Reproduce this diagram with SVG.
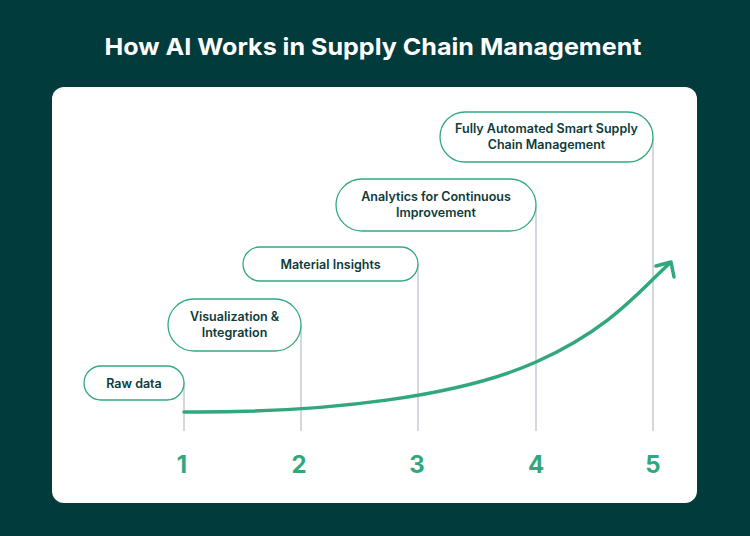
<svg xmlns="http://www.w3.org/2000/svg" width="750" height="536" viewBox="0 0 750 536">
<style>
.pill{fill:#fff;stroke:#34A97F;stroke-width:1.3}
.lbl{font-family:Inter,"Open Sans","Liberation Sans",sans-serif;font-weight:600;font-size:12.5px;fill:#0D3B3A;text-anchor:middle}
.num{font-family:Inter,"Open Sans","Liberation Sans",sans-serif;font-weight:700;font-size:24px;fill:#31A87C;text-anchor:middle}
.vl{stroke:#D4D6E0;stroke-width:2;fill:none}
</style>
<rect width="750" height="536" fill="#023B3C"/>
<text x="373" y="55" font-family="Inter,'Open Sans','Liberation Sans',sans-serif" font-weight="700" font-size="23.5" fill="#fff" text-anchor="middle" textLength="537" lengthAdjust="spacingAndGlyphs">How AI Works in Supply Chain Management</text>
<rect x="52" y="87" width="645" height="416" rx="12" fill="#fff"/>
<g id="guides">
<line class="vl" x1="184" y1="383" x2="184" y2="431"/>
<line class="vl" x1="301" y1="325" x2="301" y2="431"/>
<line class="vl" x1="418" y1="264" x2="418" y2="431"/>
<line class="vl" x1="536" y1="205" x2="536" y2="431"/>
<line class="vl" x1="653" y1="137" x2="653" y2="431"/>
</g>
<g id="connectors">
<path d="M184,412 C330,413 460,396 536,362 S640,290 670,263" fill="none" stroke="#31A87C" stroke-width="3.5" stroke-linecap="round"/>
<polyline points="656,266 671,262 674,277" fill="none" stroke="#31A87C" stroke-width="3.5" stroke-linecap="round" stroke-linejoin="round"/>
</g>
<g id="n1"><rect class="pill" x="84" y="366" width="100" height="34" rx="17"/><text class="lbl" x="134" y="387.5">Raw data</text></g>
<g id="n2"><rect class="pill" x="168" y="299" width="133" height="52" rx="26"/><text class="lbl" x="234.5" y="321">Visualization &amp;</text><text class="lbl" x="234.5" y="337">Integration</text></g>
<g id="n3"><rect class="pill" x="243" y="247" width="175" height="34" rx="17"/><text class="lbl" x="330.5" y="268.5">Material Insights</text></g>
<g id="n4"><rect class="pill" x="336" y="179" width="200" height="52" rx="26"/><text class="lbl" x="436" y="201">Analytics for Continuous</text><text class="lbl" x="436" y="217">Improvement</text></g>
<g id="n5"><rect class="pill" x="440" y="112" width="213" height="50" rx="25"/><text class="lbl" x="546.5" y="133">Fully Automated Smart Supply</text><text class="lbl" x="546.5" y="149">Chain Management</text></g>
<g id="numbers">
<text class="num" x="182" y="473">1</text>
<text class="num" x="299" y="473">2</text>
<text class="num" x="417" y="473">3</text>
<text class="num" x="536" y="473">4</text>
<text class="num" x="653" y="473">5</text>
</g>
</svg>
